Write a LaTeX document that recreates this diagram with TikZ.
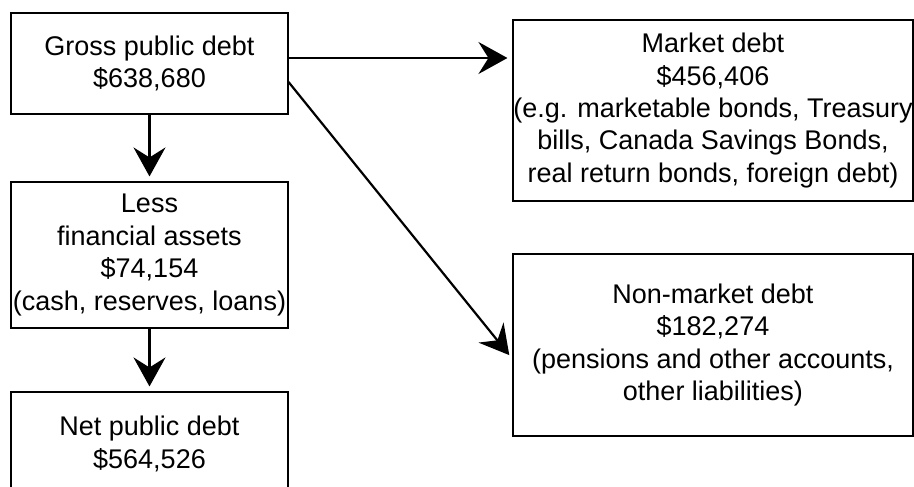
\documentclass[tikz,border=0pt]{standalone}
\usepackage{fontspec}
\setmainfont{Liberation Sans}
\usepackage{tikz}
\usetikzlibrary{arrows.meta,positioning,calc}
\tikzstyle{arrow} = [line width=2.2pt,-{Stealth[length=29pt,width=32pt,inset=10pt]},shorten >=5pt]
\tikzstyle{debtbox} = [rectangle, draw=black, line width=1.1pt, fill=white, align=center, inner sep=0pt, font=\fontsize{27}{32.4}\selectfont]

\begin{document}
\begin{tikzpicture}[x=1pt,y=-1pt]
\useasboundingbox (0,0) rectangle (914,487);
\clip (0,0) rectangle (914,487);
% Left column
\node[debtbox, minimum width=277pt, minimum height=101pt] (gross) at (149.5,63.5) {Gross public debt\\\$638,680};
\node[debtbox, minimum width=277pt, minimum height=146pt] (assets) at (149.5,255) {Less\\financial assets\\\$74,154\\(cash, reserves, loans)};
\node[debtbox, minimum width=277pt, minimum height=104pt] (net) at (149.5,444) {Net public debt\\\$564,526};

% Right column
\node[debtbox, minimum width=400pt, minimum height=181pt] (market) at (713,110.5) {Market debt\\\$456,406\\(e.g. marketable bonds, Treasury\\bills, Canada Savings Bonds,\\real return bonds, foreign debt)};
\node[debtbox, minimum width=400pt, minimum height=182pt] (nonmarket) at (713,345) {Non-market debt\\\$182,274\\(pensions and other accounts,\\other liabilities)};

% Arrows
\draw[arrow] (gross) -- (assets);
\draw[arrow] (assets) -- (net);
\draw[arrow] ([yshift=5.5pt]gross.east) -- ([yshift=5.5pt]gross.east -| market.west);
\draw[arrow] ([yshift=-18.5pt]gross.east) -- ([yshift=-14pt]nonmarket.west);
\end{tikzpicture}
\end{document}
